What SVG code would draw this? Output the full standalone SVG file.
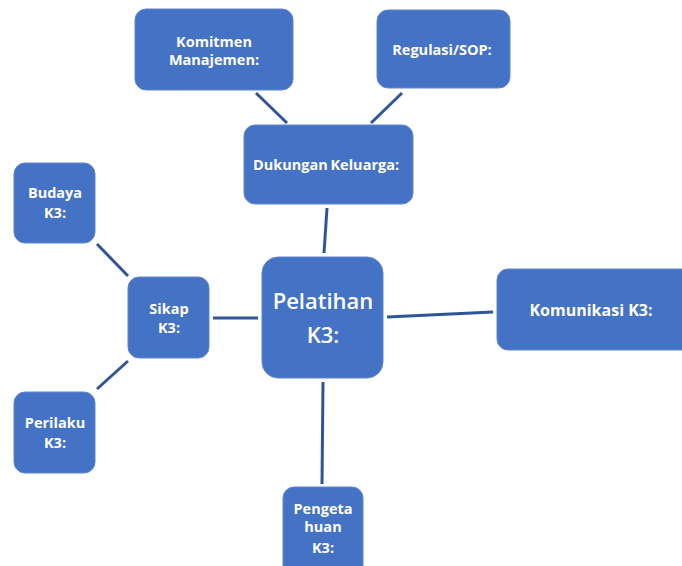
<svg xmlns="http://www.w3.org/2000/svg" width="682" height="566" viewBox="0 0 682 566">
<style>
.box{fill:#4472C4;stroke:#5f87cf;stroke-width:1}
.t{font-family:"Open Sans","Liberation Sans",sans-serif;font-weight:bold;font-size:14.5px;fill:#ffffff;text-anchor:middle}
.big{font-family:"Open Sans","Liberation Sans",sans-serif;font-weight:600;font-size:22px;fill:#ffffff;text-anchor:middle}
.c{stroke:#2F5597;stroke-width:3;fill:none}
</style>
<rect width="682" height="566" fill="#ffffff"/>
<g id="connectors">
<line class="c" x1="256" y1="93" x2="287" y2="123"/>
<line class="c" x1="402" y1="93" x2="371" y2="123"/>
<line class="c" x1="327" y1="208" x2="324" y2="253"/>
<line class="c" x1="97" y1="244" x2="128" y2="276"/>
<line class="c" x1="128" y1="361" x2="97" y2="389"/>
<line class="c" x1="213" y1="318" x2="258" y2="318"/>
<line class="c" x1="387" y1="317" x2="493" y2="312"/>
<line class="c" x1="323" y1="382" x2="322" y2="484"/>
</g>
<g id="komitmen">
<rect class="box" x="135" y="9" width="158" height="81" rx="11"/>
<text class="t" x="214" y="47">Komitmen</text>
<text class="t" x="214" y="65">Manajemen:</text>
</g>
<g id="regulasi">
<rect class="box" x="377" y="10" width="133" height="78" rx="11"/>
<text class="t" x="442" y="55">Regulasi/SOP:</text>
</g>
<g id="dukungan">
<rect class="box" x="244" y="125" width="169" height="79" rx="11"/>
<text class="t" x="326" y="170" word-spacing="-1">Dukungan Keluarga:</text>
</g>
<g id="budaya">
<rect class="box" x="14" y="163" width="81" height="80" rx="11"/>
<text class="t" x="55" y="198">Budaya</text>
<text class="t" x="55" y="218">K3:</text>
</g>
<g id="sikap">
<rect class="box" x="128" y="277" width="81" height="81" rx="11"/>
<text class="t" x="169" y="314">Sikap</text>
<text class="t" x="169" y="333">K3:</text>
</g>
<g id="perilaku">
<rect class="box" x="14" y="392" width="81" height="81" rx="11"/>
<text class="t" x="55" y="428">Perilaku</text>
<text class="t" x="55" y="448">K3:</text>
</g>
<g id="pelatihan">
<rect class="box" x="262" y="257" width="121" height="121" rx="16"/>
<text class="big" x="323" y="309">Pelatihan</text>
<text class="big" x="323" y="343">K3:</text>
</g>
<g id="komunikasi">
<rect class="box" x="497" y="269" width="200" height="81" rx="11"/>
<text class="t" x="591" y="316" style="font-size:16px">Komunikasi K3:</text>
</g>
<g id="pengetahuan">
<rect class="box" x="283" y="487" width="80" height="90" rx="11"/>
<text class="t" x="323" y="514">Pengeta</text>
<text class="t" x="323" y="532">huan</text>
<text class="t" x="323" y="553">K3:</text>
</g>
</svg>
